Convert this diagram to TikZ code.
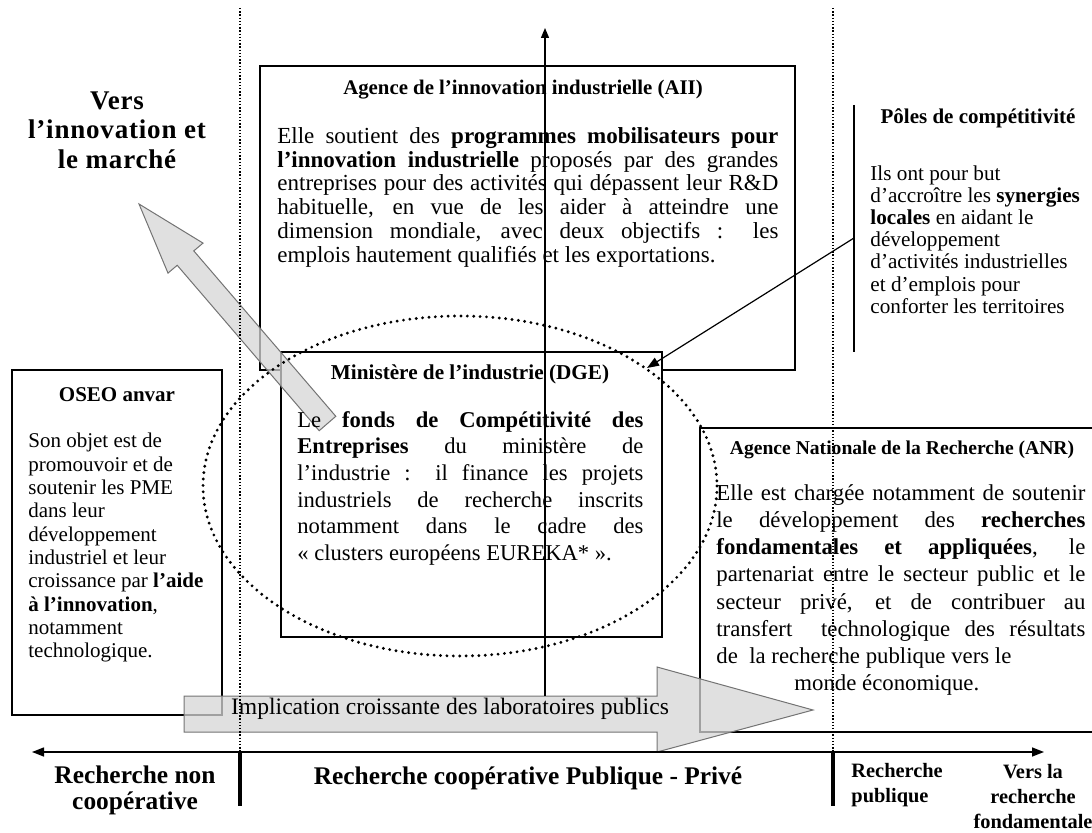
\documentclass[tikz,border=0pt]{standalone}
\usepackage{fontspec}
\setmainfont{Liberation Serif}
\usetikzlibrary{arrows.meta}

\tikzset{
  frame/.style={draw=black,line width=0.7pt,inner sep=0pt},
  boxtitle/.style={font=\fontsize{10.4}{12}\selectfont\bfseries,inner sep=0pt},
  bodytext/.style={inner sep=0pt,anchor=north west,align=justify,
    execute at begin node={\hyphenpenalty=10000 \tolerance=10000 }},
  flushtext/.style={inner sep=0pt,anchor=north west,align=left},
  axislabel/.style={font=\fontsize{12.7}{13}\selectfont\bfseries,inner sep=0pt,align=center},
  sidelabel/.style={font=\fontsize{10.2}{12.5}\selectfont\bfseries,inner sep=0pt},
  guide/.style={line width=0.8pt,dash pattern=on 0.7pt off 0.9pt},
  blob/.style={line width=1.6pt,line cap=round,dash pattern=on 0pt off 3.2pt},
  tick/.style={line width=1.6pt},
  fatarrow/.style={fill=black!16,fill opacity=0.75,draw=black!55,line width=0.5pt}
}

\begin{document}
\begin{tikzpicture}[x=0.5pt,y=-0.5pt]
    \useasboundingbox (0,0) rectangle (1092,833);

    % boxes
    \node[frame,minimum width=267.5pt,minimum height=152pt] (aii) at (527.5,218) {};
    \node[frame,fill=white,minimum width=190.5pt,minimum height=142.5pt] (dge) at (471.5,494.5) {};
    \node[frame,minimum width=105pt,minimum height=172.5pt] (oseo) at (117,542.5) {};
    \node[frame,minimum width=205pt,minimum height=152pt] (anr) at (905,580) {};

    % grey hollow arrows
    \draw[fatarrow] (319.2,430.7) -- (177.2,265.3) -- (168,273.1) -- (139,204)
        -- (203,243.1) -- (193.8,250.9) -- (335.8,416.3) -- cycle;
    \draw[fatarrow] (184,696) -- (657,696) -- (657,667) -- (813,710)
        -- (657,752) -- (657,732) -- (184,732) -- cycle;

    % separators and axis
    \coordinate (sepLtop) at (240,8);
    \coordinate (sepLbot) at (240,752);
    \coordinate (tickLbot) at (240,806);
    \coordinate (sepRtop) at (833,8);
    \coordinate (sepRbot) at (833,752);
    \coordinate (tickRbot) at (833,806);
    \coordinate (axL) at (32,752);
    \coordinate (axR) at (1044,752);
    \coordinate (upBot) at (545,696);
    \coordinate (upTop) at (545,28);

    \draw[guide] (sepLtop) -- (sepLbot);
    \draw[guide] (sepRtop) -- (sepRbot);
    \draw[tick] (sepLbot) -- (tickLbot);
    \draw[tick] (sepRbot) -- (tickRbot);
    \draw[line width=0.7pt,{Triangle[length=6pt,width=4.5pt]}-{Triangle[length=6pt,width=4.5pt]}] (axL) -- (axR);
    \draw[line width=0.7pt,-{Triangle[length=5pt,width=4pt]}] (upBot) -- (upTop);

    % poles bracket
    \coordinate (poleTop) at (854,105);
    \coordinate (poleBot) at (854,352);
    \coordinate (poleHook) at (854,238);
    \coordinate (dgeHit) at (647,368);
    \draw[line width=0.6pt] (poleTop) -- (poleBot);
    \draw[line width=0.6pt,-{Triangle[length=6pt,width=4.5pt]}] (poleHook) -- (dgeHit);

    % dotted ellipse
    \draw[blob] (460,486) ellipse [x radius=257,y radius=170];

    % texts
    \node[font=\fontsize{13.5}{14.75}\selectfont\bfseries\addfontfeature{LetterSpace=3},align=center,inner sep=0pt] (vers) at (117,130)
        {Vers\\l’innovation et\\le marché};

    \node[boxtitle] (aiititle) at (523,90) {Agence de l’innovation industrielle (AII)};
    \node[bodytext,text width=250.5pt,font=\fontsize{11.5}{11.9}\selectfont] (aiibody) at (277,127) {Elle soutient des
        \textbf{programmes mobilisateurs pour}\linebreak \textbf{l’innovation industrielle}
        proposés par des grandes\linebreak entreprises pour des activités qui dépassent leur
        R\&D\linebreak habituelle, en vue de les aider à atteindre une\linebreak dimension
        mondiale, avec deux objectifs : les\linebreak emplois hautement qualifiés et les exportations.};

    \node[boxtitle,font=\fontsize{10.5}{12}\selectfont\bfseries] (poletitle) at (978,118) {Pôles de compétitivité};
    \node[flushtext,font=\fontsize{10.6}{11.1}\selectfont] (polebody) at (870,165) {Ils ont pour but\\
        d’accroître les \textbf{synergies}\\ \textbf{locales} en aidant le\\ développement\\
        d’activités industrielles\\ et d’emplois pour\\ conforter les territoires};

    \node[boxtitle,font=\fontsize{10.5}{12}\selectfont\bfseries] (oseotitle) at (117,395) {OSEO anvar};
    \node[flushtext,font=\fontsize{10.5}{11.65}\selectfont] (oseobody) at (28,433) {Son objet est de\\ promouvoir et de\\
        soutenir les PME\\ dans leur\\ développement\\ industriel et leur\\
        croissance par \textbf{l’aide}\\ \textbf{à l’innovation},\\ notamment\\ technologique.};

    \node[boxtitle,font=\fontsize{10.6}{12}\selectfont\bfseries] (dgetitle) at (470,374) {Ministère de l’industrie (DGE)};
    \node[bodytext,text width=173pt,font=\fontsize{11.3}{13.3}\selectfont] (dgebody) at (297,411) {Le
        \textbf{fonds de Compétitivité des}\linebreak \textbf{Entreprises} du ministère de\linebreak
        l’industrie : il finance les projets\linebreak industriels de recherche inscrits\linebreak
        notamment dans le cadre des\linebreak «~clusters européens EUREKA*~».};

    \node[boxtitle,font=\fontsize{9.8}{12}\selectfont\bfseries] (anrtitle) at (902,450) {Agence Nationale de la Recherche (ANR)};
    \node[bodytext,text width=184.5pt,font=\fontsize{11.4}{13.6}\selectfont] (anrbody) at (716,484) {Elle
        est chargée notamment de soutenir\linebreak le développement des \textbf{recherches}\linebreak
        \textbf{fondamentales et appliquées}, le\linebreak partenariat entre le secteur public et
        le\linebreak secteur privé, et de contribuer au\linebreak transfert \ technologique des
        résultats\linebreak de \ la recherche publique vers le\\ \hspace*{39pt}monde économique.};

    \node[font=\fontsize{11.8}{13}\selectfont,inner sep=0pt] (labos) at (450,709)
        {Implication croissante des laboratoires publics};

    \node[axislabel] (noncoop) at (135,790) {Recherche non\\coopérative};
    \node[axislabel] (coop) at (528,778) {Recherche coopérative Publique - Privé};
    \node[sidelabel,align=left,anchor=west] (public) at (851,785) {Recherche\\publique};
    \node[sidelabel,align=center] (fonda) at (1033,797) {Vers la\\recherche\\fondamentale};
\end{tikzpicture}
\end{document}
